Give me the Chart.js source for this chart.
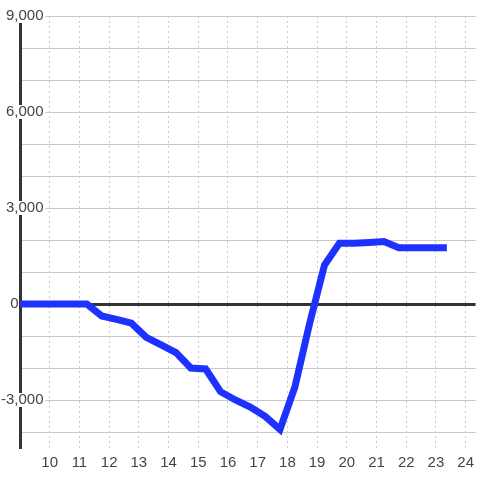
<!DOCTYPE html>
<html lang="en">
<head>
    <meta charset="UTF-8">
    <title>Chart</title>
    <script src="https://cdn.jsdelivr.net/npm/chart.js"></script>
    <style>
        html, body { margin: 0; padding: 0; background: #fff; }
        #wrap { width: 480px; height: 480px; }
    </style>
</head>
<body>
    <div id="wrap">
        <canvas id="myChart" width="480" height="480"></canvas>
    </div>
    <script>
        // データ
        const hours = [9, 9.25, 9.75, 10.25, 10.75, 11.25, 11.75, 12.25, 12.75, 13.25, 13.75, 14.25, 14.75, 15.25,
            15.75, 16.25, 16.75, 17.25, 17.75, 18.25, 18.75, 19.25, 19.75, 20.25, 20.75, 21.25, 21.75, 22.25, 22.75, 23.25];
        const values = [0, 0, 0, 0, 0, 0, -375, -480, -600, -1040, -1280, -1520, -2000, -2030,
            -2740, -3000, -3220, -3510, -3920, -2600, -600, 1220, 1900, 1900, 1920, 1950, 1760, 1760, 1760, 1760];
        const xTicks = [10, 11, 12, 13, 14, 15, 16, 17, 18, 19, 20, 21, 22, 23, 24];
        const yTicks = [-4000, -3000, -2000, -1000, 0, 1000, 2000, 3000, 4000, 5000, 6000, 7000, 8000, 9000];
        const yLabels = [-3000, 0, 3000, 6000, 9000];

        const points = hours.map((h, i) => ({ x: h, y: values[i] }));
        const font = { family: 'Liberation Sans, Arial, sans-serif', size: 15 };

        // ゼロのラベルは軸の左側に置く
        const yLabel = v => {
            if (!yLabels.includes(v)) return '';
            if (v === 0) return '0      ';
            return v.toLocaleString('en-US');
        };

        const config = {
            type: 'line',
            data: {
                datasets: [{
                    data: points,
                    borderColor: '#1e32ff',
                    borderWidth: 7,
                    borderCapStyle: 'square',
                    borderJoinStyle: 'miter',
                    pointRadius: 0,
                    tension: 0
                }]
            },
            options: {
                responsive: false,
                animation: false,
                layout: { padding: { top: 16, right: 0, bottom: 0, left: 0 } },
                plugins: { legend: { display: false }, tooltip: { enabled: false } },
                scales: {
                    x: {
                        type: 'linear',
                        min: 9,
                        max: 9 + 460 / 30,
                        afterBuildTicks: s => { s.ticks = xTicks.map(v => ({ value: v })); },
                        afterFit: s => { s.height = 32; },
                        grid: { color: '#c8c8c8', lineWidth: 1, drawTicks: false },
                        border: { display: false, dash: [2, 3] },
                        ticks: { color: '#444', font, padding: 6, maxRotation: 0, autoSkip: false }
                    },
                    y: {
                        min: -4500,
                        max: 9000,
                        afterBuildTicks: s => { s.ticks = yTicks.map(v => ({ value: v })); },
                        afterFit: s => { s.width = 20; },
                        grid: {
                            drawTicks: false,
                            color: c => c.tick && c.tick.value === 0 ? '#333' : '#c8c8c8',
                            lineWidth: c => c.tick && c.tick.value === 0 ? 3 : 1
                        },
                        border: { display: true, color: '#333', width: 3 },
                        ticks: {
                            color: '#444',
                            font,
                            mirror: true,
                            crossAlign: 'far',
                            padding: -19,
                            autoSkip: false,
                            callback: v => yLabel(v),
                            showLabelBackdrop: c => yLabels.includes(c.tick.value) && c.tick.value !== 0,
                            backdropColor: '#fff',
                            backdropPadding: { top: -2, bottom: -2, left: 1, right: 2 }
                        }
                    }
                }
            }
        };

        var myChart = new Chart(document.getElementById('myChart'), config);
    </script>
</body>
</html>
